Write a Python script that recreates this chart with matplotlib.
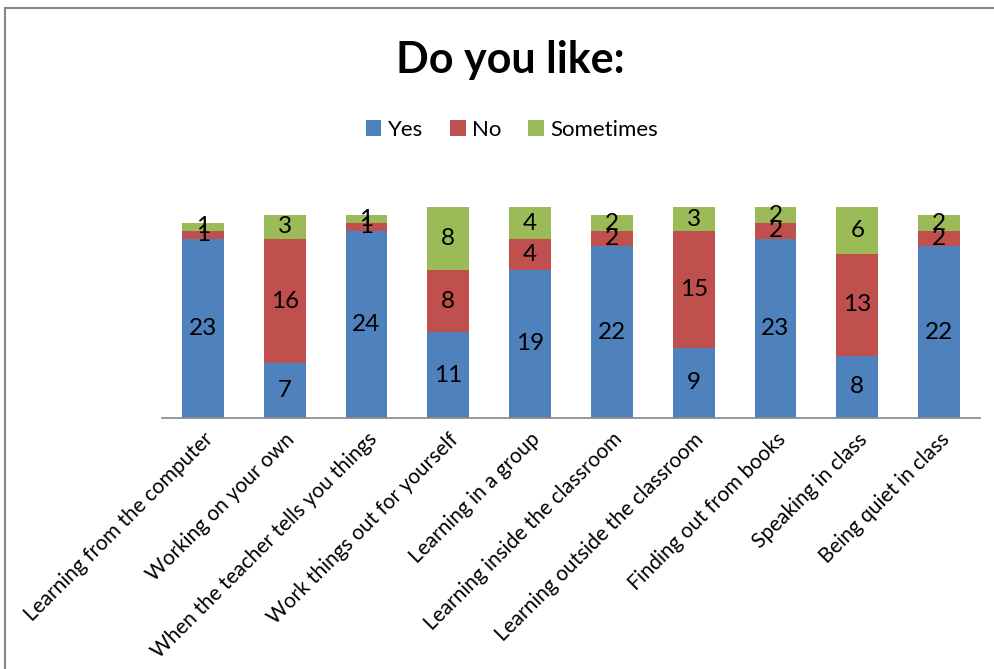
import numpy as np
import matplotlib

matplotlib.use("Agg")
import matplotlib.pyplot as plt
from matplotlib.patches import Rectangle

categories = [
    "Learning from the computer",
    "Working on your own",
    "When the teacher tells you things",
    "Work things out for yourself",
    "Learning in a group",
    "Learning inside the classroom",
    "Learning outside the classroom",
    "Finding out from books",
    "Speaking in class",
    "Being quiet in class",
]
yes = [23, 7, 24, 11, 19, 22, 9, 23, 8, 22]
no = [1, 16, 1, 8, 4, 2, 15, 2, 13, 2]
sometimes = [1, 3, 1, 8, 4, 2, 3, 2, 6, 2]

series = [("Yes", yes, "#4F81BD"), ("No", no, "#C0504D"), ("Sometimes", sometimes, "#9BBB59")]

plt.rcParams["font.family"] = ["Lato", "DejaVu Sans"]

fig = plt.figure(figsize=(9.95, 6.69), dpi=100)
fig.patches.append(Rectangle((5 / 995, -0.1), 1.2, (661 - 0) / 669 + 0.1, transform=fig.transFigure,
                             fill=False, edgecolor="#868686", linewidth=1.5))

ax = fig.add_axes([162 / 995, 251 / 669, 818 / 995, 234 / 669])
x = np.arange(len(categories))
bottom = np.zeros(len(categories))
for name, vals, color in series:
    vals = np.array(vals)
    ax.bar(x, vals, 0.51, bottom=bottom, color=color, label=name)
    # value labels in the middle of each segment
    for xi, b, v in zip(x, bottom, vals):
        ax.text(xi, b + v / 2, str(v), ha="center", va="center", fontsize=17.5, color="black")
    bottom += vals

ax.set_xlim(-0.5, len(categories) - 0.5)
ax.set_ylim(0, 30)
ax.set_yticks([])
ax.set_xticks(x)
ax.set_xticklabels(categories, rotation=45, ha="right", rotation_mode="anchor", fontsize=15)
ax.tick_params(axis="x", length=0, pad=8)
for side in ["top", "right", "left"]:
    ax.spines[side].set_visible(False)
ax.spines["bottom"].set_color("#868686")
ax.spines["bottom"].set_linewidth(1.2)

fig.text(510 / 995, 1 - 60 / 669, "Do you like:", ha="center", va="center", fontsize=31, fontweight="bold")
fig.legend(loc="center", bbox_to_anchor=(512 / 995, 1 - 130 / 669), ncol=3, frameon=False, fontsize=16,
           handlelength=0.7, handleheight=0.7, handletextpad=0.3, columnspacing=1.2)

fig.savefig("out.png", dpi=100)
